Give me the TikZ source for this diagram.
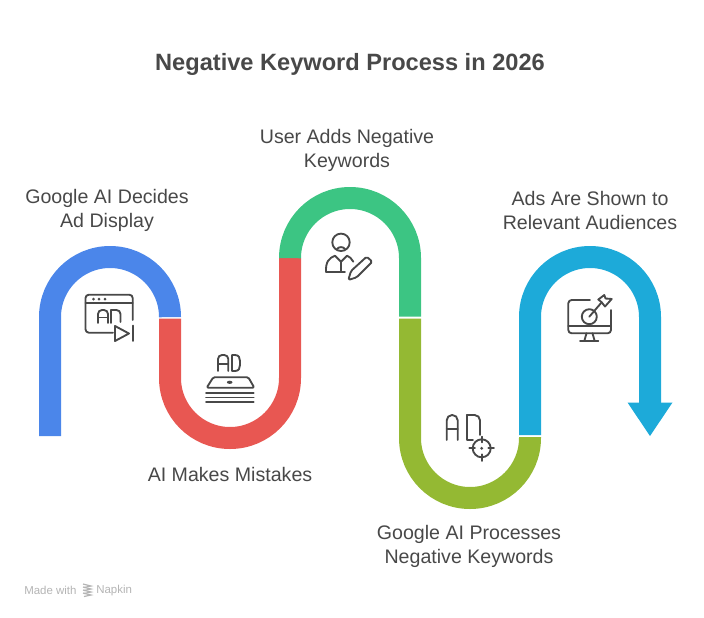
\documentclass[tikz,border=0pt]{standalone}
\usepackage{fontspec}
\setmainfont{Liberation Sans}
\usetikzlibrary{positioning}
\definecolor{napblue}{HTML}{4B86EA}
\definecolor{napred}{HTML}{E85752}
\definecolor{napgreen}{HTML}{3CC583}
\definecolor{napolive}{HTML}{94B933}
\definecolor{napsky}{HTML}{1DAAD9}
\definecolor{naptext}{HTML}{484848}
\definecolor{napmark}{HTML}{B4B4B4}
\tikzset{
  band/.style={line width=16.5pt},
  icon/.style={draw=naptext,line width=1.4pt,line cap=round,line join=round},
  steplabel/.style={font=\fontsize{14.7}{18}\selectfont,text=naptext,align=center,inner sep=0pt},
  marktext/.style={font=\fontsize{8.6}{10}\selectfont,text=napmark,inner sep=0pt}
}

\begin{document}
\begin{tikzpicture}[x=0.75pt,y=-0.75pt]
  \useasboundingbox (0,0) rectangle (704,618);

  % ---- Title ------------------------------------------------
  \node[font=\fontsize{17.7}{21}\selectfont\bfseries,text=naptext,inner sep=0pt] (title) at (350,64) {Negative Keyword Process in 2026};

  % ---- Winding band -----------------------------------------
  % Blue arch
  \draw[napblue,band] (50,436) -- (50,317) arc[start angle=180,end angle=360,radius=60] -- (170,316.5);
  % Red trough
  \draw[napred,band] (170,318.5) -- (170,378) arc[start angle=180,end angle=0,radius=60] -- (290,258);
  % Green arch
  \draw[napgreen,band] (290,256) -- (290,258) arc[start angle=180,end angle=360,radius=60] -- (410,316.5);
  % Olive trough
  \draw[napolive,band] (410,318.5) -- (410,438) arc[start angle=180,end angle=0,radius=60] -- (530,437);
  % Sky arch and arrow head
  \draw[napsky,band] (530,435) -- (530,317) arc[start angle=180,end angle=360,radius=60] -- (650,403);
  \fill[napsky] (627.5,402.5) -- (672.5,402.5) -- (650,436) -- cycle;

  % ---- Labels -----------------------------------------------
  \node[steplabel] (decides) at (107,210.5) {Google AI Decides\\Ad Display};
  \node[steplabel] (mistakes) at (230,474.5) {AI Makes Mistakes};
  \node[steplabel] (adds) at (347,150.5) {User Adds Negative\\Keywords};
  \node[steplabel] (processes) at (469,546.5) {Google AI Processes\\Negative Keywords};
  \node[steplabel] (shown) at (590,210.5) {Ads Are Shown to\\Relevant Audiences};

  % ---- Icon: ad window with play button ---------------------
  \draw[icon,rounded corners=2.5pt] (113,332.7) -- (85.5,332.7) -- (85.5,294.7) -- (132.7,294.7) -- (132.7,320);
  \draw[icon] (85.5,303.3) -- (132.7,303.3);
  \foreach \dotx in {93.5,99,105}
    \fill[naptext] (\dotx,299.2) circle (1.5);
  \draw[icon,rounded corners=3pt] (98,323) -- (98,310) -- (108,310) -- (108,323);
  \draw[icon] (98,317.5) -- (108,317.5);
  \draw[icon,rounded corners=3pt] (111,310) -- (120.5,310) -- (120.5,322);
  \draw[icon] (111,310) -- (111,323);
  \draw[icon] (115,326) -- (115,341) -- (129,333.5) -- cycle;
  \draw[icon] (132.7,325.5) -- (132.7,341);

  % ---- Icon: ad on a tray -----------------------------------
  \draw[icon,rounded corners=3pt] (218,371) -- (218,355) -- (228.3,355) -- (228.3,371);
  \draw[icon] (218,364) -- (228.3,364);
  \draw[icon] (232,371) -- (232,355) -- (235,355) .. controls (239,355) and (240,358) .. (240,361) -- (240,365) .. controls (240,368) and (239,371) .. (235,371) -- cycle;
  \draw[icon,rounded corners=1pt] (206.7,387.7) -- (213.3,377.3) -- (248.3,377.3) -- (254.3,387.7) -- cycle;
  \fill[naptext] (229.7,382.3) ellipse (2.8 and 1.6);
  \foreach \liney in {393.3,397.5,401.7}
    \draw[icon] (206,\liney) -- (253.7,\liney);

  % ---- Icon: user with pencil -------------------------------
  \draw[icon] (341,242.3) circle (8.7);
  \draw[icon] (337,249) .. controls (339,246.5) and (343,246.5) .. (345,249);
  \draw[icon] (326,271.7) -- (345,271.7);
  \draw[icon] (326,271.7) .. controls (325.5,262) and (329,258) .. (335,255.7);
  \draw[icon] (347,255.7) .. controls (349,256.5) and (352,258.5) .. (353.3,261.7);
  \draw[icon] (335,255.7) -- (341,261.7) -- (347,255.7);
  \draw[icon] (341,261.7) -- (341,271.7);
  \draw[icon,rounded corners=1.2pt] (348.3,280) -- (351,271) -- (366.7,256.7) -- (372.3,261.7) -- (356.7,277.3) -- cycle;

  % ---- Icon: ad with target ---------------------------------
  \draw[icon,rounded corners=4pt] (446.7,440) -- (446.7,415) -- (457.7,415) -- (457.7,440);
  \draw[icon] (446.7,429) -- (457.7,429);
  \draw[icon,rounded corners=4pt] (480,435) -- (480,415) -- (466.7,415);
  \draw[icon] (466.7,415) -- (466.7,440) -- (473,440);
  \draw[icon] (481.7,448.3) circle (9);
  \fill[naptext] (481.7,448.3) circle (1.6);
  \draw[icon] (481.7,436.7) -- (481.7,442.3);
  \draw[icon] (481.7,454.3) -- (481.7,461);
  \draw[icon] (469.3,448.3) -- (475,448.3);
  \draw[icon] (488.3,448.3) -- (494,448.3);

  % ---- Icon: screen with dart -------------------------------
  \draw[icon,rounded corners=2.5pt] (590,300) -- (568.3,300) -- (568.3,333.3) -- (611,333.3) -- (611,310);
  \draw[icon] (568.3,325.7) -- (611,325.7);
  \draw[icon] (586.5,333.3) -- (584.3,341);
  \draw[icon] (592.5,333.3) -- (594.7,341);
  \draw[icon] (580,341) -- (598.3,341);
  \draw[icon] (589.3,316.7) circle (7.5);
  \draw[icon] (589.3,316.7) -- (601.7,302.3);
  \draw[icon] (601.7,302.3) -- (598.3,299.5) -- (604.3,295) -- (605.5,298.5) -- (611.7,299) -- (605,306.5) -- cycle;

  % ---- Made with Napkin -------------------------------------
  \node[marktext,anchor=west] (made) at (24,590.5) {Made with};
  \node[marktext,anchor=west] (napkin) at (96,590.5) {Napkin};
  \foreach \stripey in {586,589,592,595}
    \draw[napmark,line width=0.9pt] (83,\stripey-2) -- (91,\stripey) -- (84,\stripey+1.5);

\end{tikzpicture}
\end{document}
